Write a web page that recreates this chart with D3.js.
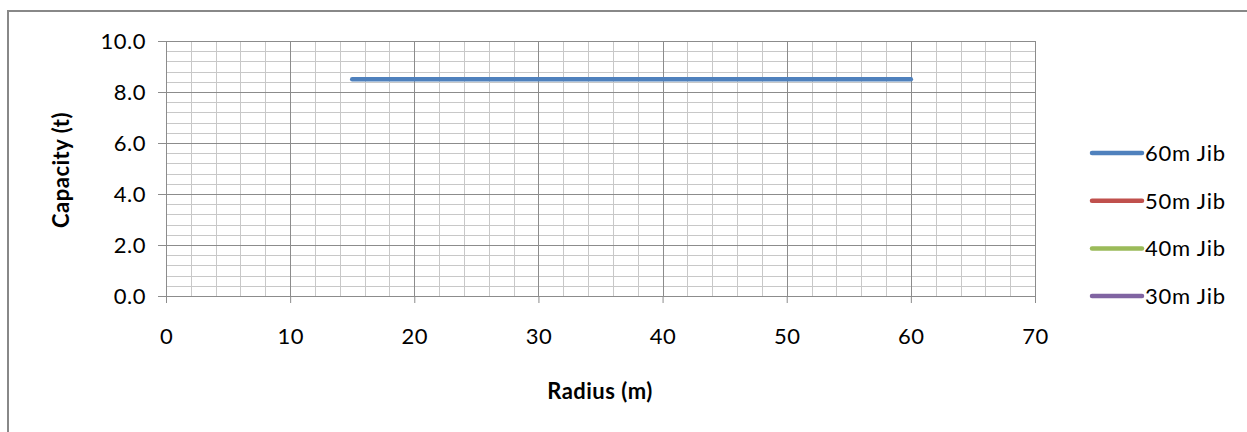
<!DOCTYPE html>
<html>
<head>
<meta charset="utf-8">
<script src="https://cdn.jsdelivr.net/npm/d3@7"></script>
<style>
  body { margin: 0; background: #fff; }
  text { font-family: Lato, "Open Sans", sans-serif; fill: #000; }
</style>
</head>
<body>
<div id="graph"></div>
<script>
// data
const seriesNames = ["60m Jib", "50m Jib", "40m Jib", "30m Jib"];
const seriesColors = ["#4F81BD", "#C0504D", "#9BBB59", "#8064A2"];
const jib60 = [{r: 15, t: 8.5}, {r: 60, t: 8.5}];
const jib50 = [];
const jib40 = [];
const jib30 = [];
const xTicks = [0, 10, 20, 30, 40, 50, 60, 70];
const yTicks = [0, 2, 4, 6, 8, 10];

const allSeries = [jib60, jib50, jib40, jib30];

const W = 1247, H = 432;
const margin = {top: 41, right: 212, bottom: 136, left: 166},
  width = W - margin.left - margin.right,
  height = H - margin.top - margin.bottom;

const root = d3.select("#graph").append("svg")
  .attr("width", W).attr("height", H);

// chart border
root.append("rect")
  .attr("x", 8).attr("y", 11)
  .attr("width", W + 10).attr("height", H + 10)
  .attr("fill", "none").attr("stroke", "#888").attr("stroke-width", 2);

const svg = root.append("g")
  .attr("transform", "translate(" + margin.left + "," + margin.top + ")");

const x = d3.scaleLinear().domain([0, 70]).range([0, width]);
const y = d3.scaleLinear().domain([0, 10]).range([height, 0]);

// minor grid
svg.append("g").selectAll("line")
  .data(d3.range(0, 70.01, 2))
  .enter().append("line")
  .attr("x1", d => Math.round(x(d)) + 0.5).attr("x2", d => Math.round(x(d)) + 0.5)
  .attr("y1", 0).attr("y2", height)
  .attr("stroke", "#c8c8c8").attr("stroke-width", 1);
svg.append("g").selectAll("line")
  .data(d3.range(0, 10.01, 0.4))
  .enter().append("line")
  .attr("y1", d => Math.round(y(d)) + 0.5).attr("y2", d => Math.round(y(d)) + 0.5)
  .attr("x1", 0).attr("x2", width)
  .attr("stroke", "#c8c8c8").attr("stroke-width", 1);

// major grid
svg.append("g").selectAll("line")
  .data(xTicks)
  .enter().append("line")
  .attr("x1", d => Math.round(x(d)) + 0.5).attr("x2", d => Math.round(x(d)) + 0.5)
  .attr("y1", 0).attr("y2", height)
  .attr("stroke", "#8c8c8c").attr("stroke-width", 1);
svg.append("g").selectAll("line")
  .data(yTicks)
  .enter().append("line")
  .attr("y1", d => Math.round(y(d)) + 0.5).attr("y2", d => Math.round(y(d)) + 0.5)
  .attr("x1", 0).attr("x2", width)
  .attr("stroke", "#8c8c8c").attr("stroke-width", 1);

// axes
const xAxis = svg.append("g")
  .attr("transform", "translate(0," + height + ")")
  .call(d3.axisBottom(x).tickValues(xTicks).tickSize(7).tickPadding(25).tickFormat(d3.format("d")));
const yAxis = svg.append("g")
  .call(d3.axisLeft(y).tickValues(yTicks).tickSize(8).tickPadding(12).tickFormat(d3.format(".1f")));
[xAxis, yAxis].forEach(a => {
  a.select(".domain").attr("stroke", "#8c8c8c");
  a.selectAll(".tick line").attr("stroke", "#8c8c8c");
  a.selectAll("text").style("font-size", "22px").style("letter-spacing", "0.5px").attr("fill", "#000");
});

// series lines
const line = d3.line().x(d => x(d.r)).y(d => y(d.t));
allSeries.forEach((s, i) => {
  if (!s.length) return;
  svg.append("path")
    .datum(s)
    .attr("fill", "none")
    .attr("stroke", seriesColors[i])
    .attr("stroke-width", 4.5)
    .attr("stroke-linecap", "round")
    .attr("d", line);
});

// axis titles
root.append("text")
  .attr("x", 600).attr("y", 399)
  .attr("text-anchor", "middle")
  .style("font-size", "22px").style("font-weight", "bold").style("letter-spacing", "0.5px")
  .text("Radius (m)");
root.append("text")
  .attr("transform", "translate(69,170) rotate(-90)")
  .attr("text-anchor", "middle")
  .style("font-size", "22px").style("font-weight", "bold").style("letter-spacing", "0.5px")
  .text("Capacity (t)");

// legend
const legend = root.append("g").attr("transform", "translate(1090,153)");
seriesNames.forEach((n, i) => {
  const g = legend.append("g").attr("transform", "translate(0," + i * 47.7 + ")");
  g.append("line")
    .attr("x1", 2).attr("x2", 52)
    .attr("stroke", seriesColors[i]).attr("stroke-width", 4.5)
    .attr("stroke-linecap", "round");
  g.append("text")
    .attr("x", 55).attr("y", 8)
    .style("font-size", "22px").style("letter-spacing", "0.8px")
    .text(n);
});
</script>
</body>
</html>
